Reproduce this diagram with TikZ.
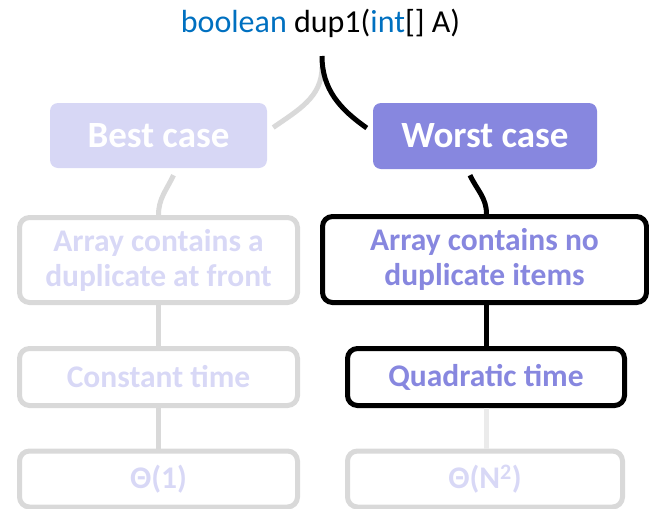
\documentclass[tikz,border=0pt]{standalone}
\usepackage{fontspec}
\setmainfont{Carlito}
\usetikzlibrary{calc}
\definecolor{codeblue}{HTML}{0070C0}
\definecolor{lav}{HTML}{D7D7F5}
\definecolor{lavtext}{HTML}{D8D8F6}
\definecolor{purp}{HTML}{8787DF}
\definecolor{grayb}{HTML}{D9D9D9}
\definecolor{grayl}{HTML}{EBEBEB}
\tikzset{
  casebox/.style={rectangle, rounded corners=8pt, inner sep=0pt, text=white,
    font=\fontsize{37}{42}\bfseries\selectfont},
  greybox/.style={rectangle, rounded corners=10pt, draw=grayb, line width=5pt, inner sep=0pt,
    text=lavtext, align=center, font=\fontsize{31.5}{35}\bfseries\selectfont},
  blackbox/.style={rectangle, rounded corners=10pt, draw=black, line width=5pt, inner sep=0pt,
    text=purp, align=center, font=\fontsize{31.5}{35}\bfseries\selectfont},
  greyline/.style={draw=grayb, line width=5pt},
  lightline/.style={draw=grayl, line width=5pt},
  blackline/.style={draw=black, line width=5pt},
}
\begin{document}
\begin{tikzpicture}[x=1pt,y=-1pt]
\useasboundingbox (0,0) rectangle (649,509);
\node[anchor=base, inner sep=0pt, font=\fontsize{32}{36}\selectfont] (t) at (320.5,32) {\textcolor{codeblue}{boolean} dup1(\textcolor{codeblue}{int}[] A)};
\node[casebox, fill=lav, minimum width=217pt, minimum height=65pt] (b) at (158.5,135.5) {Best case};
\node[casebox, fill=purp, minimum width=224pt, minimum height=66pt] (w) at (485,136) {Worst case};
\node[greybox, minimum width=278pt, minimum height=85pt] (a1) at (158.5,260) {Array contains a\\duplicate at front};
\node[blackbox, minimum width=324pt, minimum height=86pt] (a2) at (484.5,259.5) {Array contains no\\duplicate items};
\node[greybox, minimum width=278pt, minimum height=57pt] (c1) at (158.5,377) {Constant time};
\node[blackbox, minimum width=277pt, minimum height=57pt] (c2) at (486,377) {Quadratic time};
\node[greybox, minimum width=278pt, minimum height=56pt] (o1) at (158.5,479) {Θ(1)};
\node[greybox, minimum width=275pt, minimum height=56pt] (o2) at (485,479) {Θ(N\textsuperscript{2})};
% top connectors
\coordinate (tb) at ($(t.base)+(1.5,24)$);
\coordinate (tg) at ($(t.base)+(1.5,35)$);
\path[greyline] (tg) to[out=-90,in=35] ($(b.east)+(6,-8)$);
\path[blackline] (tb) to[out=-90,in=145] ($(w.west)+(-6,-8)$);
% middle connectors
\path[greyline] ($(b.south)+(15,7)$) to[out=-115,in=90] (a1.north);
\path[blackline] ($(w.south)+(-15,6)$) to[out=-65,in=90] ($(a2.north)+(2,0)$);
% verticals
\path[greyline] (a1.south) -- (c1.north);
\path[greyline] (c1.south) -- (o1.north);
\path[blackline] ($(a2.south)+(1.5,0)$) -- (c2.north);
\path[lightline] (c2.south) -- ($(o2.north)+(1,0)$);
\end{tikzpicture}
\end{document}
